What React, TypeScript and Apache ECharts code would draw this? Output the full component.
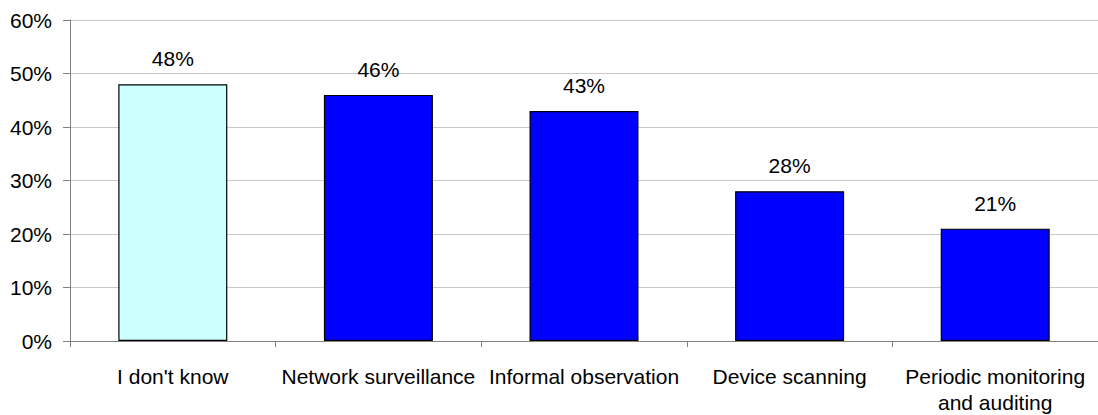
import React, { useEffect, useRef } from "react";
import * as echarts from "echarts";

// Monitoring methods and share of respondents (%)
const categories: string[] = [
  "I don't know",
  "Network surveillance",
  "Informal observation",
  "Device scanning",
  "Periodic monitoring\nand auditing",
];
const values: number[] = [48, 46, 43, 28, 21];
const barColors: string[] = ["#CCFFFF", "#0000FF", "#0000FF", "#0000FF", "#0000FF"];

const yMin = 0;
const yMax = 60;
const yStep = 10;

const FONT = "'Liberation Sans', Arial, sans-serif";

export default function App() {
  const ref = useRef<HTMLDivElement | null>(null);

  useEffect(() => {
    if (!ref.current) return;
    const chart = echarts.init(ref.current, undefined, { renderer: "svg" });
    chart.setOption({
      animation: false,
      backgroundColor: "#FFFFFF",
      textStyle: { fontFamily: FONT },
      grid: { left: 70, right: -7, top: 20, bottom: 71, containLabel: false },
      xAxis: {
        type: "category",
        data: categories,
        axisLine: { show: true, lineStyle: { color: "#808080", width: 1 } },
        axisTick: {
          show: true,
          alignWithLabel: false,
          length: 6,
          lineStyle: { color: "#808080" },
        },
        axisLabel: {
          color: "#000000",
          fontSize: 21,
          fontFamily: FONT,
          margin: 22,
          lineHeight: 26,
          interval: 0,
        },
        splitLine: { show: false },
      },
      yAxis: {
        type: "value",
        min: yMin,
        max: yMax,
        interval: yStep,
        axisLine: { show: true, lineStyle: { color: "#808080", width: 1 } },
        axisTick: { show: true, length: 7, lineStyle: { color: "#808080" } },
        axisLabel: {
          color: "#000000",
          fontSize: 21,
          fontFamily: FONT,
          margin: 18,
          formatter: "{value}%",
        },
        splitLine: { show: true, lineStyle: { color: "#C8C8C8", width: 1 } },
      },
      series: [
        {
          type: "bar",
          barWidth: 109,
          data: values.map((v, i) => ({
            value: v,
            itemStyle: { color: barColors[i], borderColor: "#000000", borderWidth: 1.2 },
          })),
          label: {
            show: true,
            position: "top",
            distance: 15,
            color: "#000000",
            fontSize: 21,
            fontFamily: FONT,
            formatter: "{c}%",
          },
        },
      ],
    });
    return () => chart.dispose();
  }, []);

  return (
    <div
      ref={ref}
      style={{ position: "absolute", left: 0, top: 0, width: 1098, height: 415, overflow: "hidden" }}
    />
  );
}
